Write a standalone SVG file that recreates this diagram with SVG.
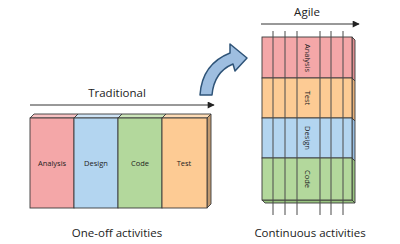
<svg xmlns="http://www.w3.org/2000/svg" width="400" height="244" viewBox="0 0 400 244">
<style>
.lbl{font-family:"Open Sans","Liberation Sans",sans-serif;fill:#222}
.big{font-size:11.5px}
.sm{font-size:7.5px}
.edge{stroke:#3a3a3a;stroke-width:0.9}
.vl{stroke:#4a4a4a;stroke-width:1}
.ax{stroke:#333;stroke-width:1;fill:none}
</style>
<defs>
<marker id="ah" viewBox="0 0 10 10" refX="9" refY="5" markerWidth="9" markerHeight="7" orient="auto" markerUnits="userSpaceOnUse">
<path d="M0,0 L10,5 L0,10 Z" fill="#222"/>
</marker>
</defs>
<g id="connectors">
<line class="ax" x1="30" y1="105" x2="214" y2="105" marker-end="url(#ah)"/>
<line class="ax" x1="261" y1="24" x2="359" y2="24" marker-end="url(#ah)"/>
<path d="M200,95 Q202,64 230,53 L230,44 L247,58 L235,71 L233,64 Q214,72 212,95 Z" fill="#9ebee0" stroke="#2f5478" stroke-width="1.5" stroke-linejoin="round"/>
</g>
<g id="traditional">
<text class="lbl big" x="117" y="97" text-anchor="middle">Traditional</text>
<polygon points="30,118 34,114 78,114 74,118" fill="#f8c2c3" class="edge"/>
<polygon points="74,118 78,114 122,114 118,118" fill="#cfe4f6" class="edge"/>
<polygon points="118,118 122,114 166,114 162,118" fill="#cde6bb" class="edge"/>
<polygon points="162,118 166,114 211,114 207,118" fill="#fedcb6" class="edge"/>
<polygon points="207,118 211,114 211,204 207,208" fill="#c29a70" class="edge"/>
<g id="t-analysis"><rect x="30" y="118" width="44" height="90" fill="#f4a7a8" class="edge"/><text class="lbl sm" x="52" y="166" text-anchor="middle">Analysis</text></g>
<g id="t-design"><rect x="74" y="118" width="44" height="90" fill="#b3d5f0" class="edge"/><text class="lbl sm" x="96" y="166" text-anchor="middle">Design</text></g>
<g id="t-code"><rect x="118" y="118" width="44" height="90" fill="#b3d89c" class="edge"/><text class="lbl sm" x="140" y="166" text-anchor="middle">Code</text></g>
<g id="t-test"><rect x="162" y="118" width="45" height="90" fill="#fdcb94" class="edge"/><text class="lbl sm" x="184" y="166" text-anchor="middle">Test</text></g>
<text class="lbl big" x="117" y="237" text-anchor="middle">One-off activities</text>
</g>
<g id="agile">
<text class="lbl big" x="307" y="16" text-anchor="middle">Agile</text>
<polygon points="352,37 355,40 355,81 352,78" fill="#df8e91" class="edge"/>
<polygon points="352,78 355,81 355,121 352,118" fill="#e6b07a" class="edge"/>
<polygon points="352,118 355,121 355,161 352,158" fill="#97bde0" class="edge"/>
<polygon points="352,158 355,161 355,203 352,200" fill="#98c380" class="edge"/>
<polygon points="262,200 265,203 355,203 352,200" fill="#98c380" class="edge"/>
<g id="a-analysis"><rect x="262" y="37" width="90" height="41" fill="#f4a7a8" class="edge"/></g>
<g id="a-test"><rect x="262" y="78" width="90" height="40" fill="#fdcb94" class="edge"/></g>
<g id="a-design"><rect x="262" y="118" width="90" height="40" fill="#b3d5f0" class="edge"/></g>
<g id="a-code"><rect x="262" y="158" width="90" height="42" fill="#b3d89c" class="edge"/></g>
<line class="vl" x1="273" y1="31" x2="273" y2="215"/>
<line class="vl" x1="285" y1="31" x2="285" y2="215"/>
<line class="vl" x1="297" y1="31" x2="297" y2="215"/>
<line class="vl" x1="320" y1="31" x2="320" y2="215"/>
<line class="vl" x1="331" y1="31" x2="331" y2="215"/>
<line class="vl" x1="343" y1="31" x2="343" y2="215"/>
<text class="lbl sm" text-anchor="middle" transform="translate(305,58) rotate(90)">Analysis</text>
<text class="lbl sm" text-anchor="middle" transform="translate(305,98) rotate(90)">Test</text>
<text class="lbl sm" text-anchor="middle" transform="translate(305,138) rotate(90)">Design</text>
<text class="lbl sm" text-anchor="middle" transform="translate(305,179) rotate(90)">Code</text>
<text class="lbl big" x="310" y="237" text-anchor="middle">Continuous activities</text>
</g>
</svg>
